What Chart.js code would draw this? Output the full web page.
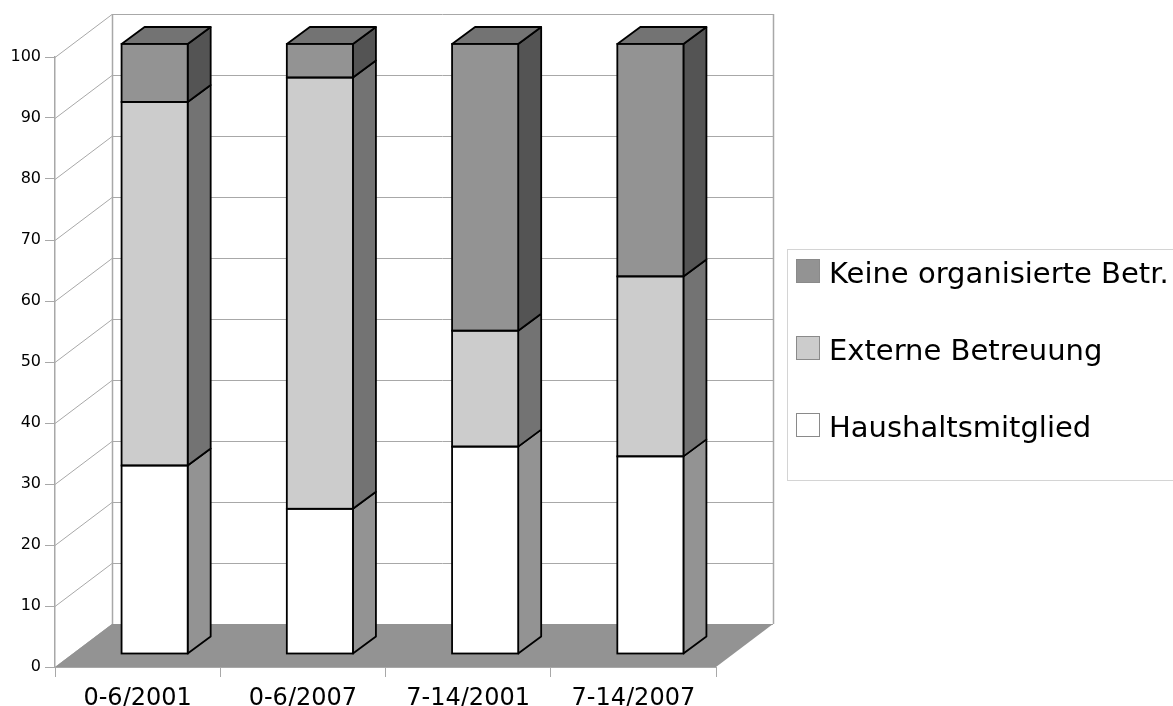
<!DOCTYPE html>
<html>
<head>
<meta charset="utf-8">
<title>Betreuung</title>
<script src="https://cdn.jsdelivr.net/npm/chart.js@4.4.0/dist/chart.umd.min.js"></script>
<style>
    html, body { margin: 0; padding: 0; background: #ffffff; }
    #chart { display: block; }
</style>
</head>
<body>
<canvas id="chart" width="1173" height="706"></canvas>
<script>
// Kategorien und Werte (Prozent, gestapelt)
const categories = ['0-6/2001', '0-6/2007', '7-14/2001', '7-14/2007'];
const seriesNames = ['Haushaltsmitglied', 'Externe Betreuung', 'Keine organisierte Betr.'];
const haushalt = [30.9, 23.8, 34.0, 32.4];
const extern = [59.6, 70.7, 19.0, 29.5];
const keine = [9.5, 5.5, 47.0, 38.1];
const yTicks = [0, 10, 20, 30, 40, 50, 60, 70, 80, 90, 100];

// Farben (Vorderseite, Seite, Deckel)
const frontColors = ['#ffffff', '#cccccc', '#939393'];
const sideColors = ['#939393', '#737373', '#545454'];
const topColor = '#737373';
const gridColor = '#a8a8a8';
const floorColor = '#939393';
const edgeColor = '#000000';

// 3D-Geometrie
const DEPTH_X = 57, DEPTH_Y = -43;      // Tiefe von Wand / Boden
const SHIFT_X = 17, SHIFT_Y = -13;      // Vorderseite der Balken
const BAR_DX = 23, BAR_DY = -17;        // Tiefe der Balken

const FONT = '"DejaVu Sans", Verdana, sans-serif';

// Wand, Boden und Balkenseiten
const wall3d = {
    id: 'wall3d',
    beforeDatasetsDraw(chart) {
        const { ctx, chartArea: a, scales: { y } } = chart;
        ctx.save();
        ctx.strokeStyle = gridColor;
        ctx.lineWidth = 1;

        // Gitterlinien: linke Wand und Rückwand
        yTicks.forEach(v => {
            const py = Math.round(y.getPixelForValue(v)) + 0.5;
            ctx.beginPath();
            ctx.moveTo(a.left, py);
            ctx.lineTo(a.left + DEPTH_X, py + DEPTH_Y);
            ctx.lineTo(a.right + DEPTH_X, py + DEPTH_Y);
            ctx.stroke();
        });

        // Rückwand senkrecht
        const wTop = Math.round(y.getPixelForValue(100)) + DEPTH_Y;
        const wBot = Math.round(y.getPixelForValue(0)) + DEPTH_Y;
        ctx.lineWidth = 1.5;
        ctx.beginPath();
        ctx.moveTo(a.left + DEPTH_X + 0.5, wTop);
        ctx.lineTo(a.left + DEPTH_X + 0.5, wBot);
        ctx.moveTo(a.right + DEPTH_X + 0.5, wTop);
        ctx.lineTo(a.right + DEPTH_X + 0.5, wBot);
        ctx.stroke();

        // Boden
        const b = y.getPixelForValue(0);
        ctx.fillStyle = floorColor;
        ctx.beginPath();
        ctx.moveTo(a.left, b);
        ctx.lineTo(a.right, b);
        ctx.lineTo(a.right + DEPTH_X, b + DEPTH_Y);
        ctx.lineTo(a.left + DEPTH_X, b + DEPTH_Y);
        ctx.closePath();
        ctx.fill();

        // Seiten und Deckel der Balken
        ctx.translate(SHIFT_X, SHIFT_Y);
        ctx.strokeStyle = edgeColor;
        ctx.lineWidth = 1.8;
        ctx.lineJoin = 'round';
        const last = chart.data.datasets.length - 1;
        chart.data.datasets.forEach((ds, i) => {
            chart.getDatasetMeta(i).data.forEach(bar => {
                const l = bar.x - bar.width / 2;
                const r = bar.x + bar.width / 2;
                ctx.fillStyle = sideColors[i];
                ctx.beginPath();
                ctx.moveTo(r, bar.base);
                ctx.lineTo(r, bar.y);
                ctx.lineTo(r + BAR_DX, bar.y + BAR_DY);
                ctx.lineTo(r + BAR_DX, bar.base + BAR_DY);
                ctx.closePath();
                ctx.fill();
                ctx.stroke();
                if (i === last) {
                    ctx.fillStyle = topColor;
                    ctx.beginPath();
                    ctx.moveTo(l, bar.y);
                    ctx.lineTo(r, bar.y);
                    ctx.lineTo(r + BAR_DX, bar.y + BAR_DY);
                    ctx.lineTo(l + BAR_DX, bar.y + BAR_DY);
                    ctx.closePath();
                    ctx.fill();
                    ctx.stroke();
                }
            });
        });
        ctx.restore();

        // Vorderseiten werden von Chart.js verschoben gezeichnet
        ctx.save();
        ctx.translate(SHIFT_X, SHIFT_Y);
    },
    afterDatasetsDraw(chart) {
        const ctx = chart.ctx;
        ctx.strokeStyle = edgeColor;
        ctx.lineWidth = 1.8;
        chart.data.datasets.forEach((ds, i) => {
            chart.getDatasetMeta(i).data.forEach(bar => {
                const l = bar.x - bar.width / 2;
                ctx.strokeRect(l, bar.y, bar.width, bar.base - bar.y);
            });
        });
        ctx.restore();
    }
};

// Legende rechts
const legendBox = {
    id: 'legendBox',
    afterDraw(chart) {
        const ctx = chart.ctx;
        ctx.save();
        ctx.strokeStyle = '#d4d4d4';
        ctx.lineWidth = 1;
        ctx.strokeRect(787.5, 249.5, 500, 231);
        ctx.font = '29px ' + FONT;
        ctx.textBaseline = 'alphabetic';
        const n = chart.data.datasets.length;
        for (let k = 0; k < n; k++) {
            const ds = chart.data.datasets[n - 1 - k];
            const top = 259 + 77 * k;
            ctx.fillStyle = ds.backgroundColor;
            ctx.fillRect(796, top, 24, 24);
            ctx.strokeStyle = '#8a8a8a';
            ctx.strokeRect(796.5, top + 0.5, 23, 23);
            ctx.fillStyle = '#000000';
            ctx.fillText(ds.label, 829, top + 24);
        }
        ctx.restore();
    }
};

const datasets = [haushalt, extern, keine].map((values, i) => ({
    label: seriesNames[i],
    data: values,
    backgroundColor: frontColors[i],
    borderWidth: 0,
    categoryPercentage: 1.0,
    barPercentage: 0.4
}));

new Chart(document.getElementById('chart'), {
    type: 'bar',
    data: { labels: categories, datasets: datasets },
    options: {
        responsive: false,
        animation: false,
        devicePixelRatio: 1,
        layout: { padding: { top: 57, right: 457, left: 0, bottom: 0 } },
        plugins: {
            legend: { display: false },
            tooltip: { enabled: false }
        },
        scales: {
            x: {
                stacked: true,
                afterFit: s => { s.height = 39; },
                border: { display: true, color: gridColor },
                grid: { display: true, drawOnChartArea: false, drawTicks: true, tickLength: 10, color: gridColor, offset: true },
                ticks: { color: '#000000', font: { family: FONT, size: 24 }, padding: 7, maxRotation: 0 }
            },
            y: {
                stacked: true,
                min: 0,
                max: 100,
                afterFit: s => { s.width = 55; },
                afterBuildTicks: s => { s.ticks = yTicks.map(v => ({ value: v })); },
                border: { display: true, color: gridColor, width: 1.5 },
                grid: { display: true, drawOnChartArea: false, drawTicks: true, tickLength: 10, color: gridColor },
                ticks: { color: '#000000', font: { family: FONT, size: 16 }, padding: 4 }
            }
        }
    },
    plugins: [wall3d, legendBox]
});
</script>
</body>
</html>
